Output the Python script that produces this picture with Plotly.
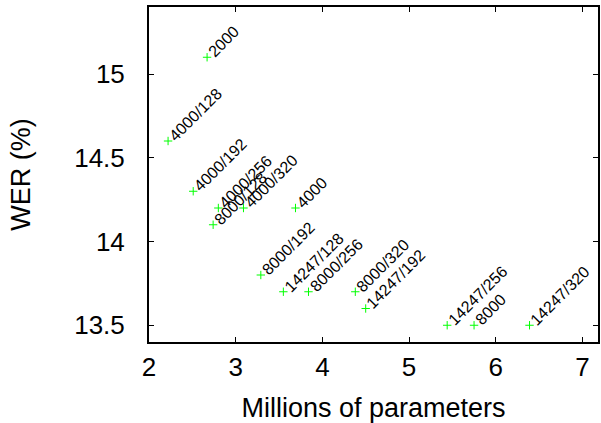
import plotly.graph_objects as go

labels = ["2000", "4000/128", "4000/192", "4000/256", "4000/320", "8000/128", "4000",
          "8000/192", "14247/128", "8000/256", "8000/320", "14247/192",
          "14247/256", "8000", "14247/320"]
params = [2.67, 2.22, 2.51, 2.80, 3.09, 2.74, 3.69,
          3.29, 3.55, 3.84, 4.38, 4.50,
          5.44, 5.75, 6.39]
wer = [15.1, 14.6, 14.3, 14.2, 14.2, 14.1, 14.2,
       13.8, 13.7, 13.7, 13.7, 13.6,
       13.5, 13.5, 13.5]

x_ticks = [2, 3, 4, 5, 6, 7]
y_ticks = [13.5, 14, 14.5, 15]
y_tick_text = ["13.5", "14", "14.5", "15"]

FONT = "Liberation Sans, Arial, Helvetica, sans-serif"

fig = go.Figure()
fig.add_trace(go.Scatter(
    x=params, y=wer, mode="markers",
    marker=dict(symbol="cross-thin-open", size=6, color="#00ff00",
                line=dict(color="#00ff00", width=1)),
    showlegend=False, hoverinfo="skip"))

for lab, xv, yv in zip(labels, params, wer):
    fig.add_annotation(x=xv, y=yv, text=lab, showarrow=False, textangle=-45,
                       xanchor="left", yanchor="bottom", xshift=-5, yshift=-6,
                       font=dict(family=FONT, size=16, color="black"))

axis_common = dict(showline=True, linecolor="black", linewidth=2, mirror="ticks",
                   ticks="inside", ticklen=5, tickwidth=1, tickcolor="black",
                   showgrid=False, zeroline=False, automargin=False,
                   tickfont=dict(family=FONT, size=26, color="black"))

fig.update_layout(
    width=601, height=423,
    margin=dict(l=149, r=3, t=7, b=81),
    paper_bgcolor="white", plot_bgcolor="white",
    xaxis=dict(range=[2, 7.18], tickvals=x_ticks,
               title=dict(text="Millions of parameters", standoff=18,
                          font=dict(family=FONT, size=27, color="black")),
               ticklabelstandoff=1, **axis_common),
    yaxis=dict(range=[13.4, 15.4], tickvals=y_ticks, ticktext=y_tick_text,
               title=dict(text="WER (%)", standoff=36,
                          font=dict(family=FONT, size=27, color="black")),
               ticklabelstandoff=17, **axis_common),
)

fig.write_html("out.html", config={"displayModeBar": False},
               post_script="document.body.style.margin='0';document.body.style.overflow='hidden';")
